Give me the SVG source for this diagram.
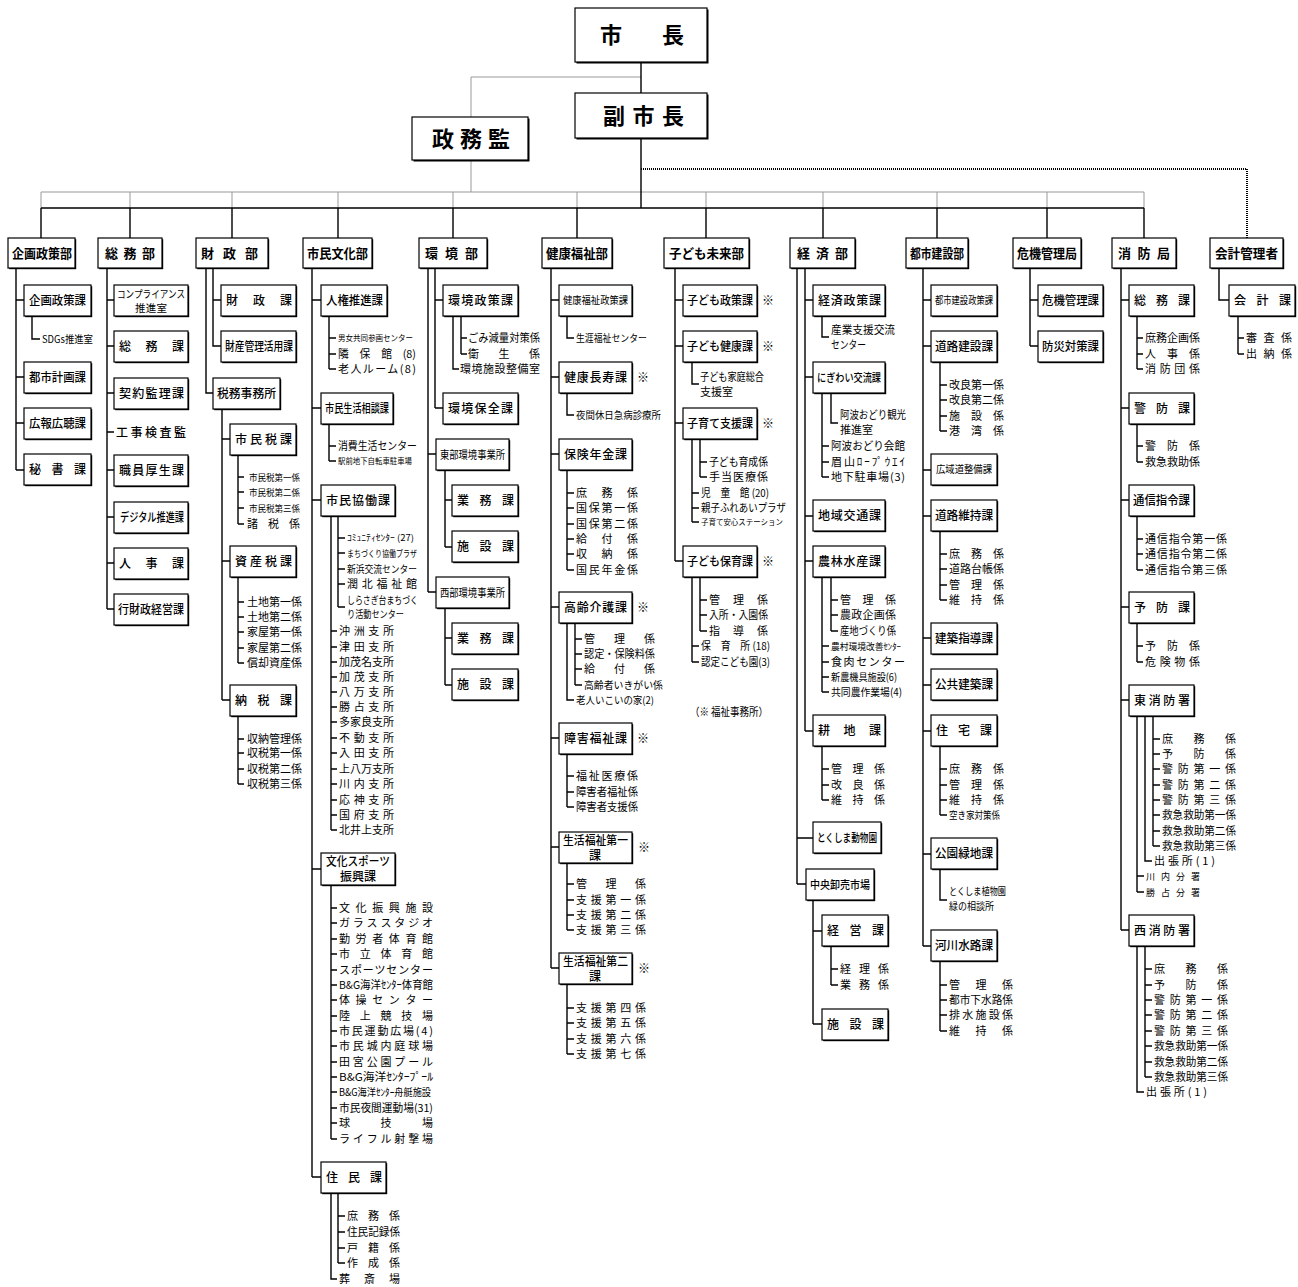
<svg xmlns="http://www.w3.org/2000/svg" width="1298" height="1287" viewBox="0 0 1298 1287">
<style>
text{font-family:"Noto Sans CJK JP","Noto Sans CJK SC",sans-serif;fill:#000}
.h{font-size:22px;font-weight:700}
.d{font-size:13px;font-weight:700}
.b{font-size:12px;font-weight:500}
.i{font-size:11px}
.i10{font-size:10px}
.i9{font-size:9px}
.i8{font-size:8px}
.bx{fill:#fff;stroke:#000;stroke-width:1.2}
.sh{fill:#000}
.ln{fill:none;stroke:#000;stroke-width:1.4}
.gl{fill:none;stroke:#999;stroke-width:1}
.dt{fill:none;stroke:#000;stroke-width:2;stroke-dasharray:1 1}
</style>
<rect width="1298" height="1287" fill="#fff"/>
<g id="connectors">
<path class="gl" d="M641 77H471V117 M471 160V192 M41 192H1144 M41 192V208 M130 192V208 M232 192V208 M338 192V208 M453 192V208 M577 192V208 M706 192V208 M823 192V208 M937 192V208 M1047 192V208 M1144 192V208"/>
<path class="dt" d="M641 169H1247V238"/>
<path class="ln" d="M641 62V93 M641 138V208 M41 208H1144 M41 208V238 M130 208V238 M232 208V238 M338 208V238 M453 208V238 M577 208V238 M706 208V238 M823 208V238 M937 208V238 M1047 208V238 M1144 208V238"/>
<path class="ln" d="M16 268V470 M16 300H24 M16 377H24 M16 423H24 M16 470H24 M32 316V339H40"/>
<path class="ln" d="M107 268V609 M107 300H114 M107 346H114 M107 393H114 M107 432H114 M107 470H114 M107 517H114 M107 563H114 M107 609H114"/>
<path class="ln" d="M213 268V346H221 M213 300H221 M206 268V393H213 M222 409V700 M222 439H230 M222 561H230 M222 700H230 M238 455V524 M238 477H244 M238 492H244 M238 508H244 M238 524H244 M238 577V663 M238 602H244 M238 617H244 M238 632H244 M238 648H244 M238 663H244 M238 716V784 M238 739H244 M238 753H244 M238 769H244 M238 784H244"/>
<path class="ln" d="M312 268V1177 M312 300H321 M312 408H321 M312 500H321 M312 869H321 M312 1177H321 M329 316V369 M329 338H336 M329 354H336 M329 369H336 M329 423V461 M329 446H336 M329 461H336 M338 515V607 M338 538H345 M338 553H345 M338 569H345 M338 584H345 M338 607H345 M331 515V830 M331 631H337 M331 647H337 M331 662H337 M331 677H337 M331 692H337 M331 707H337 M331 722H337 M331 738H337 M331 753H337 M331 769H337 M331 784H337 M331 800H337 M331 815H337 M331 830H337 M331 885V1139 M331 908H337 M331 923H337 M331 939H337 M331 954H337 M331 970H337 M331 985H337 M331 1000H337 M331 1016H337 M331 1031H337 M331 1046H337 M331 1062H337 M331 1077H337 M331 1092H337 M331 1108H337 M331 1123H337 M331 1139H337 M338 1193V1263 M338 1216H345 M338 1232H345 M338 1248H345 M338 1263H345 M331 1193V1279H337"/>
<path class="ln" d="M435 268V408 M435 300H443 M435 408H443 M428 268V592 M428 454H436 M428 592H436 M453 316V369H459 M461 316V354 M461 338H467 M461 354H467 M445 470V547 M445 500H452 M445 547H452 M445 608V685 M445 638H452 M445 685H452"/>
<path class="ln" d="M551 268V968 M551 300H559 M551 377H559 M551 454H559 M551 607H559 M551 738H559 M551 847H559 M551 968H559 M567 316V338H574 M567 393V415H574 M567 470V570 M567 493H574 M567 508H574 M567 524H574 M567 539H574 M567 554H574 M567 570H574 M575 623V685 M575 639H582 M575 654H582 M575 669H582 M575 685H582 M567 623V700H574 M567 753V807 M567 776H574 M567 792H574 M567 807H574 M567 863V930 M567 884H574 M567 900H574 M567 915H574 M567 930H574 M567 984V1054 M567 1008H574 M567 1023H574 M567 1039H574 M567 1054H574"/>
<path class="ln" d="M675 268V561 M675 300H683 M675 346H683 M675 423H683 M675 561H683 M692 362V384H699 M700 439V477 M700 462H707 M700 477H707 M692 439V522 M692 493H699 M692 508H699 M692 522H699 M700 577V631 M700 600H707 M700 615H707 M700 631H707 M692 577V662 M692 646H699 M692 662H699"/>
<path class="ln" d="M805 268V731 M805 300H813 M805 377H813 M805 516H813 M805 561H813 M805 731H813 M797 268V884 M797 838H813 M797 884H806 M822 316V337H829 M831 393V423H838 M822 393V477 M822 446H829 M822 462H829 M822 477H829 M831 577V631 M831 600H838 M831 615H838 M831 631H838 M822 577V692 M822 646H829 M822 662H829 M822 677H829 M822 692H829 M822 746V800 M822 769H829 M822 785H829 M822 800H829 M813 900V1024 M813 931H822 M813 1024H822 M831 946V985 M831 969H838 M831 985H838"/>
<path class="ln" d="M923 268V946 M923 300H931 M923 346H931 M923 470H931 M923 516H931 M923 638H931 M923 685H931 M923 731H931 M923 854H931 M923 946H931 M940 362V431 M940 385H947 M940 400H947 M940 416H947 M940 431H947 M940 531V600 M940 554H947 M940 569H947 M940 585H947 M940 600H947 M940 746V815 M940 769H947 M940 785H947 M940 800H947 M940 815H947 M940 869V900H947 M940 961V1031 M940 985H947 M940 1000H947 M940 1015H947 M940 1031H947"/>
<path class="ln" d="M1030 268V346 M1030 300H1038 M1030 346H1038"/>
<path class="ln" d="M1121 268V930 M1121 300H1129 M1121 408H1129 M1121 500H1129 M1121 607H1129 M1121 700H1129 M1121 930H1129 M1137 316V369 M1137 338H1143 M1137 354H1143 M1137 369H1143 M1137 424V462 M1137 446H1143 M1137 462H1143 M1137 516V570 M1137 539H1143 M1137 554H1143 M1137 570H1143 M1137 623V662 M1137 646H1143 M1137 662H1143 M1153 716V846 M1153 739H1160 M1153 754H1160 M1153 769H1160 M1153 785H1160 M1153 800H1160 M1153 815H1160 M1153 831H1160 M1153 846H1160 M1145 716V861H1152 M1137 716V892 M1137 876H1144 M1137 892H1144 M1145 946V1077 M1145 969H1152 M1145 985H1152 M1145 1000H1152 M1145 1015H1152 M1145 1031H1152 M1145 1046H1152 M1145 1062H1152 M1145 1077H1152 M1137 946V1092H1144"/>
<path class="ln" d="M1219 268V300H1229 M1238 316V354 M1238 338H1244 M1238 354H1244"/>
</g>

<g id="top">
<g id="mayor"><rect class="sh" x="576.5" y="9.5" width="132" height="54"/><rect class="bx" x="575" y="8" width="132" height="54"/><text class="h" x="600" y="43" textLength="84">市長</text></g>
<g id="vice-mayor"><rect class="sh" x="576.5" y="94.5" width="132" height="45"/><rect class="bx" x="575" y="93" width="132" height="45"/><text class="h" x="603" y="124" textLength="81">副市長</text></g>
<g id="seimukan"><rect class="sh" x="413.5" y="118.5" width="116" height="43"/><rect class="bx" x="412" y="117" width="116" height="43"/><text class="h" x="432" y="147" textLength="78">政務監</text></g>
</g>

<g id="d1">
<g><rect class="sh" x="9.2" y="239.2" width="67" height="30"/><rect class="bx" x="8" y="238" width="67" height="30"/><text class="d" x="12" y="258" textLength="60" lengthAdjust="spacingAndGlyphs">企画政策部</text></g>
<g><rect class="sh" x="25.2" y="286.2" width="67" height="31"/><rect class="bx" x="24" y="285" width="67" height="31"/><text class="b" x="29" y="305" textLength="57" lengthAdjust="spacingAndGlyphs">企画政策課</text></g>
<text class="i10" x="42" y="343" textLength="51" lengthAdjust="spacingAndGlyphs">SDGs推進室</text>
<g><rect class="sh" x="25.2" y="363.2" width="67" height="31"/><rect class="bx" x="24" y="362" width="67" height="31"/><text class="b" x="29" y="382" textLength="57" lengthAdjust="spacingAndGlyphs">都市計画課</text></g>
<g><rect class="sh" x="25.2" y="409.2" width="67" height="31"/><rect class="bx" x="24" y="408" width="67" height="31"/><text class="b" x="29" y="428" textLength="57" lengthAdjust="spacingAndGlyphs">広報広聴課</text></g>
<g><rect class="sh" x="25.2" y="455.2" width="67" height="31"/><rect class="bx" x="24" y="454" width="67" height="31"/><text class="b" x="29" y="474" textLength="57">秘書課</text></g>
</g>

<g id="d2">
<g><rect class="sh" x="99.2" y="239.2" width="64" height="30"/><rect class="bx" x="98" y="238" width="64" height="30"/><text class="d" x="105" y="258" textLength="50">総務部</text></g>
<g><rect class="sh" x="115.2" y="286.2" width="74" height="31"/><rect class="bx" x="114" y="285" width="74" height="31"/><text x="117" y="298" style="font-size:10.5px" textLength="68" lengthAdjust="spacingAndGlyphs">コンプライアンス</text><text x="135" y="312" style="font-size:10.5px" textLength="32">推進室</text></g>
<g><rect class="sh" x="115.2" y="332.2" width="74" height="31"/><rect class="bx" x="114" y="331" width="74" height="31"/><text class="b" x="119" y="351" textLength="65">総務課</text></g>
<g><rect class="sh" x="115.2" y="379.2" width="74" height="31"/><rect class="bx" x="114" y="378" width="74" height="31"/><text class="b" x="119" y="398" textLength="65">契約監理課</text></g>
<text class="b" x="116" y="437" textLength="70">工事検査監</text>
<g><rect class="sh" x="115.2" y="456.2" width="74" height="31"/><rect class="bx" x="114" y="455" width="74" height="31"/><text class="b" x="119" y="475" textLength="65">職員厚生課</text></g>
<g><rect class="sh" x="115.2" y="503.2" width="74" height="31"/><rect class="bx" x="114" y="502" width="74" height="31"/><text class="b" x="120" y="522" textLength="64" lengthAdjust="spacingAndGlyphs">デジタル推進課</text></g>
<g><rect class="sh" x="115.2" y="549.2" width="74" height="31"/><rect class="bx" x="114" y="548" width="74" height="31"/><text class="b" x="119" y="568" textLength="65">人事課</text></g>
<g><rect class="sh" x="115.2" y="595.2" width="74" height="31"/><rect class="bx" x="114" y="594" width="74" height="31"/><text class="b" x="118" y="614" textLength="66" lengthAdjust="spacingAndGlyphs">行財政経営課</text></g>
</g>

<g id="d3">
<g><rect class="sh" x="197.2" y="239.2" width="72" height="30"/><rect class="bx" x="196" y="238" width="72" height="30"/><text class="d" x="201" y="258" textLength="57">財政部</text></g>
<g><rect class="sh" x="222.2" y="286.2" width="75" height="31"/><rect class="bx" x="221" y="285" width="75" height="31"/><text class="b" x="226" y="305" textLength="66">財政課</text></g>
<g><rect class="sh" x="222.2" y="332.2" width="75" height="31"/><rect class="bx" x="221" y="331" width="75" height="31"/><text class="b" x="225" y="351" textLength="68" lengthAdjust="spacingAndGlyphs">財産管理活用課</text></g>
<g><rect class="sh" x="214.2" y="379.2" width="67" height="31"/><rect class="bx" x="213" y="378" width="67" height="31"/><text class="b" x="217" y="398" textLength="59" lengthAdjust="spacingAndGlyphs">税務事務所</text></g>
<g><rect class="sh" x="231.2" y="425.2" width="66" height="31"/><rect class="bx" x="230" y="424" width="66" height="31"/><text class="b" x="235" y="444" textLength="57">市民税課</text></g>
<text class="i9" x="249" y="480.5" textLength="51" lengthAdjust="spacingAndGlyphs">市民税第一係</text>
<text class="i9" x="249" y="495.5" textLength="51" lengthAdjust="spacingAndGlyphs">市民税第二係</text>
<text class="i9" x="249" y="511.5" textLength="51" lengthAdjust="spacingAndGlyphs">市民税第三係</text>
<text class="i" x="247" y="528" textLength="53">諸税係</text>
<g><rect class="sh" x="231.2" y="547.2" width="66" height="31"/><rect class="bx" x="230" y="546" width="66" height="31"/><text class="b" x="235" y="566" textLength="57">資産税課</text></g>
<text class="i" x="247" y="606" textLength="55">土地第一係</text>
<text class="i" x="247" y="621" textLength="55">土地第二係</text>
<text class="i" x="247" y="636" textLength="55">家屋第一係</text>
<text class="i" x="247" y="652" textLength="55">家屋第二係</text>
<text class="i" x="247" y="667" textLength="55">償却資産係</text>
<g><rect class="sh" x="231.2" y="686.2" width="66" height="31"/><rect class="bx" x="230" y="685" width="66" height="31"/><text class="b" x="235" y="705" textLength="57">納税課</text></g>
<text class="i" x="247" y="743" textLength="55">収納管理係</text>
<text class="i" x="247" y="757" textLength="55">収税第一係</text>
<text class="i" x="247" y="773" textLength="55">収税第二係</text>
<text class="i" x="247" y="788" textLength="55">収税第三係</text>
</g>

<g id="d4">
<g><rect class="sh" x="304.2" y="239.2" width="69" height="30"/><rect class="bx" x="303" y="238" width="69" height="30"/><text class="d" x="307" y="258" textLength="61" lengthAdjust="spacingAndGlyphs">市民文化部</text></g>
<g><rect class="sh" x="322.2" y="286.2" width="66" height="31"/><rect class="bx" x="321" y="285" width="66" height="31"/><text class="b" x="326" y="305" textLength="57" lengthAdjust="spacingAndGlyphs">人権推進課</text></g>
<text x="338" y="341" style="font-size:8.5px" textLength="75" lengthAdjust="spacingAndGlyphs">男女共同参画センター</text>
<text class="i" x="338" y="358" textLength="78" lengthAdjust="spacingAndGlyphs">隣　保　館　(8)</text>
<text class="i" x="338" y="373" textLength="78">老人ルーム(8)</text>
<g><rect class="sh" x="322.2" y="394.2" width="72" height="31"/><rect class="bx" x="321" y="393" width="72" height="31"/><text class="b" x="325" y="413" textLength="64" lengthAdjust="spacingAndGlyphs">市民生活相談課</text></g>
<text class="i" x="338" y="450" textLength="79" lengthAdjust="spacingAndGlyphs">消費生活センター</text>
<text class="i8" x="338" y="464" textLength="74" lengthAdjust="spacingAndGlyphs">駅前地下自転車駐車場</text>
<g><rect class="sh" x="322.2" y="486.2" width="74" height="31"/><rect class="bx" x="321" y="485" width="74" height="31"/><text class="b" x="326" y="505" textLength="64">市民協働課</text></g>
<text class="i9" x="347" y="541" textLength="67" lengthAdjust="spacingAndGlyphs">ｺﾐｭﾆﾃｨｾﾝﾀｰ (27)</text>
<text class="i9" x="347" y="556.5" textLength="70" lengthAdjust="spacingAndGlyphs">まちづくり協働プラザ</text>
<text x="347" y="572.5" style="font-size:10px" textLength="70" lengthAdjust="spacingAndGlyphs">新浜交流センター</text>
<text class="i" x="347" y="588" textLength="70">潤北福祉館</text>
<text class="i10" x="347" y="603.5" textLength="71" lengthAdjust="spacingAndGlyphs">しらさぎ台まちづく</text>
<text class="i10" x="347" y="618" textLength="57" lengthAdjust="spacingAndGlyphs">り活動センター</text>
<text class="i" x="339" y="635" textLength="55">沖洲支所</text>
<text class="i" x="339" y="651" textLength="55">津田支所</text>
<text class="i" x="339" y="666" textLength="55">加茂名支所</text>
<text class="i" x="339" y="681" textLength="55">加茂支所</text>
<text class="i" x="339" y="696" textLength="55">八万支所</text>
<text class="i" x="339" y="711" textLength="55">勝占支所</text>
<text class="i" x="339" y="726" textLength="55">多家良支所</text>
<text class="i" x="339" y="742" textLength="55">不動支所</text>
<text class="i" x="339" y="757" textLength="55">入田支所</text>
<text class="i" x="339" y="773" textLength="55">上八万支所</text>
<text class="i" x="339" y="788" textLength="55">川内支所</text>
<text class="i" x="339" y="804" textLength="55">応神支所</text>
<text class="i" x="339" y="819" textLength="55">国府支所</text>
<text class="i" x="339" y="834" textLength="55">北井上支所</text>
<g><rect class="sh" x="322.2" y="854.2" width="74" height="32"/><rect class="bx" x="321" y="853" width="74" height="32"/><text class="b" x="326" y="866" textLength="64" lengthAdjust="spacingAndGlyphs">文化スポーツ</text><text class="b" x="340" y="881" textLength="36">振興課</text></g>
<text class="i" x="339" y="912" textLength="94">文化振興施設</text>
<text class="i" x="339" y="927" textLength="94">ガラススタジオ</text>
<text class="i" x="339" y="943" textLength="94">勤労者体育館</text>
<text class="i" x="339" y="958" textLength="94">市立体育館</text>
<text class="i" x="339" y="974" textLength="94">スポーツセンター</text>
<text class="i" x="339" y="989" textLength="94" lengthAdjust="spacingAndGlyphs">B&amp;G海洋ｾﾝﾀｰ体育館</text>
<text class="i" x="339" y="1004" textLength="94">体操センター</text>
<text class="i" x="339" y="1020" textLength="94">陸上競技場</text>
<text class="i" x="339" y="1035" textLength="94">市民運動広場(4)</text>
<text class="i" x="339" y="1050" textLength="94">市民城内庭球場</text>
<text class="i" x="339" y="1066" textLength="94">田宮公園プール</text>
<text class="i" x="339" y="1081" textLength="94" lengthAdjust="spacingAndGlyphs">B&amp;G海洋ｾﾝﾀｰﾌﾟｰﾙ</text>
<text class="i10" x="339" y="1096" textLength="92" lengthAdjust="spacingAndGlyphs">B&amp;G海洋ｾﾝﾀｰ舟艇施設</text>
<text class="i" x="339" y="1112" textLength="94" lengthAdjust="spacingAndGlyphs">市民夜間運動場(31)</text>
<text class="i" x="339" y="1127" textLength="94">球技場</text>
<text class="i" x="339" y="1143" textLength="94">ライフル射撃場</text>
<g><rect class="sh" x="322.2" y="1163.2" width="65" height="31"/><rect class="bx" x="321" y="1162" width="65" height="31"/><text class="b" x="326" y="1182" textLength="56">住民課</text></g>
<text class="i" x="347" y="1220" textLength="53">庶務係</text>
<text class="i" x="347" y="1236" textLength="53" lengthAdjust="spacingAndGlyphs">住民記録係</text>
<text class="i" x="347" y="1252" textLength="53">戸籍係</text>
<text class="i" x="347" y="1267" textLength="53">作成係</text>
<text class="i" x="339" y="1283" textLength="61">葬斎場</text>
</g>

<g id="d5">
<g><rect class="sh" x="420.2" y="239.2" width="68" height="30"/><rect class="bx" x="419" y="238" width="68" height="30"/><text class="d" x="425" y="258" textLength="53">環境部</text></g>
<g><rect class="sh" x="444.2" y="286.2" width="75" height="31"/><rect class="bx" x="443" y="285" width="75" height="31"/><text class="b" x="448" y="305" textLength="65">環境政策課</text></g>
<text class="i" x="468" y="342" textLength="72" lengthAdjust="spacingAndGlyphs">ごみ減量対策係</text>
<text class="i" x="468" y="358" textLength="72">衛生係</text>
<text class="i" x="460" y="373" textLength="80">環境施設整備室</text>
<g><rect class="sh" x="444.2" y="394.2" width="75" height="31"/><rect class="bx" x="443" y="393" width="75" height="31"/><text class="b" x="448" y="413" textLength="65">環境保全課</text></g>
<g><rect class="sh" x="437.2" y="440.2" width="73" height="31"/><rect class="bx" x="436" y="439" width="73" height="31"/><text class="i" x="440" y="459" textLength="65" lengthAdjust="spacingAndGlyphs">東部環境事業所</text></g>
<g><rect class="sh" x="453.2" y="486.2" width="66" height="31"/><rect class="bx" x="452" y="485" width="66" height="31"/><text class="b" x="457" y="505" textLength="57">業務課</text></g>
<g><rect class="sh" x="453.2" y="532.2" width="66" height="31"/><rect class="bx" x="452" y="531" width="66" height="31"/><text class="b" x="457" y="551" textLength="57">施設課</text></g>
<g><rect class="sh" x="437.2" y="578.2" width="73" height="31"/><rect class="bx" x="436" y="577" width="73" height="31"/><text class="i" x="440" y="597" textLength="65" lengthAdjust="spacingAndGlyphs">西部環境事業所</text></g>
<g><rect class="sh" x="453.2" y="624.2" width="66" height="31"/><rect class="bx" x="452" y="623" width="66" height="31"/><text class="b" x="457" y="643" textLength="57">業務課</text></g>
<g><rect class="sh" x="453.2" y="670.2" width="66" height="31"/><rect class="bx" x="452" y="669" width="66" height="31"/><text class="b" x="457" y="689" textLength="57">施設課</text></g>
</g>

<g id="d6">
<g><rect class="sh" x="543.2" y="239.2" width="70" height="30"/><rect class="bx" x="542" y="238" width="70" height="30"/><text class="d" x="546" y="258" textLength="62" lengthAdjust="spacingAndGlyphs">健康福祉部</text></g>
<g><rect class="sh" x="560.2" y="286.2" width="73" height="31"/><rect class="bx" x="559" y="285" width="73" height="31"/><text x="563" y="304" style="font-size:10.5px" textLength="65" lengthAdjust="spacingAndGlyphs">健康福祉政策課</text></g>
<text class="i10" x="576" y="341.5" textLength="71" lengthAdjust="spacingAndGlyphs">生涯福祉センター</text>
<g><rect class="sh" x="560.2" y="363.2" width="73" height="31"/><rect class="bx" x="559" y="362" width="73" height="31"/><text class="b" x="564" y="382" textLength="63">健康長寿課</text><text class="b" x="637" y="382">※</text></g>
<text class="i10" x="576" y="418.5" textLength="85" lengthAdjust="spacingAndGlyphs">夜間休日急病診療所</text>
<g><rect class="sh" x="560.2" y="440.2" width="73" height="31"/><rect class="bx" x="559" y="439" width="73" height="31"/><text class="b" x="564" y="459" textLength="63">保険年金課</text></g>
<text class="i" x="576" y="497" textLength="62">庶務係</text>
<text class="i" x="576" y="512" textLength="62">国保第一係</text>
<text class="i" x="576" y="528" textLength="62">国保第二係</text>
<text class="i" x="576" y="543" textLength="62">給付係</text>
<text class="i" x="576" y="558" textLength="62">収納係</text>
<text class="i" x="576" y="574" textLength="62">国民年金係</text>
<g><rect class="sh" x="560.2" y="593.2" width="73" height="31"/><rect class="bx" x="559" y="592" width="73" height="31"/><text class="b" x="564" y="612" textLength="63">高齢介護課</text><text class="b" x="637" y="612">※</text></g>
<text class="i" x="584" y="643" textLength="71">管理係</text>
<text class="i" x="584" y="658" textLength="71" lengthAdjust="spacingAndGlyphs">認定・保険料係</text>
<text class="i" x="584" y="673" textLength="71">給付係</text>
<text class="i10" x="584" y="688.5" textLength="79" lengthAdjust="spacingAndGlyphs">高齢者いきがい係</text>
<text class="i10" x="576" y="703.5" textLength="78" lengthAdjust="spacingAndGlyphs">老人いこいの家(2)</text>
<g><rect class="sh" x="560.2" y="724.2" width="73" height="31"/><rect class="bx" x="559" y="723" width="73" height="31"/><text class="b" x="564" y="743" textLength="63">障害福祉課</text><text class="b" x="637" y="743">※</text></g>
<text class="i" x="576" y="780" textLength="62">福祉医療係</text>
<text class="i" x="576" y="796" textLength="62" lengthAdjust="spacingAndGlyphs">障害者福祉係</text>
<text class="i" x="576" y="811" textLength="62" lengthAdjust="spacingAndGlyphs">障害者支援係</text>
<g><rect class="sh" x="560.2" y="833.2" width="73" height="31"/><rect class="bx" x="559" y="832" width="73" height="31"/><text class="b" x="563" y="845" textLength="65" lengthAdjust="spacingAndGlyphs">生活福祉第一</text><text class="b" x="589" y="860">課</text><text class="b" x="638" y="852">※</text></g>
<text class="i" x="576" y="888" textLength="70">管理係</text>
<text class="i" x="576" y="904" textLength="70">支援第一係</text>
<text class="i" x="576" y="919" textLength="70">支援第二係</text>
<text class="i" x="576" y="934" textLength="70">支援第三係</text>
<g><rect class="sh" x="560.2" y="954.2" width="73" height="31"/><rect class="bx" x="559" y="953" width="73" height="31"/><text class="b" x="563" y="966" textLength="65" lengthAdjust="spacingAndGlyphs">生活福祉第二</text><text class="b" x="589" y="981">課</text><text class="b" x="638" y="973">※</text></g>
<text class="i" x="576" y="1012" textLength="70">支援第四係</text>
<text class="i" x="576" y="1027" textLength="70">支援第五係</text>
<text class="i" x="576" y="1043" textLength="70">支援第六係</text>
<text class="i" x="576" y="1058" textLength="70">支援第七係</text>
</g>

<g id="d7">
<g><rect class="sh" x="665.2" y="239.2" width="85" height="30"/><rect class="bx" x="664" y="238" width="85" height="30"/><text class="d" x="669" y="258" textLength="75" lengthAdjust="spacingAndGlyphs">子ども未来部</text></g>
<g><rect class="sh" x="684.2" y="286.2" width="74" height="31"/><rect class="bx" x="683" y="285" width="74" height="31"/><text class="b" x="687" y="305" textLength="66" lengthAdjust="spacingAndGlyphs">子ども政策課</text><text class="b" x="762" y="305">※</text></g>
<g><rect class="sh" x="684.2" y="332.2" width="74" height="31"/><rect class="bx" x="683" y="331" width="74" height="31"/><text class="b" x="687" y="351" textLength="66" lengthAdjust="spacingAndGlyphs">子ども健康課</text><text class="b" x="762" y="351">※</text></g>
<text class="i" x="700" y="381" textLength="64" lengthAdjust="spacingAndGlyphs">子ども家庭総合</text>
<text class="i" x="700" y="396" textLength="33">支援室</text>
<g><rect class="sh" x="684.2" y="409.2" width="74" height="31"/><rect class="bx" x="683" y="408" width="74" height="31"/><text class="b" x="687" y="428" textLength="66" lengthAdjust="spacingAndGlyphs">子育て支援課</text><text class="b" x="762" y="428">※</text></g>
<text class="i" x="709" y="466" textLength="59" lengthAdjust="spacingAndGlyphs">子ども育成係</text>
<text class="i" x="709" y="481" textLength="59">手当医療係</text>
<text class="i" x="701" y="497" textLength="68" lengthAdjust="spacingAndGlyphs">児　童　館 (20)</text>
<text class="i" x="701" y="512" textLength="85" lengthAdjust="spacingAndGlyphs">親子ふれあいプラザ</text>
<text class="i8" x="701" y="525" textLength="82" lengthAdjust="spacingAndGlyphs">子育て安心ステーション</text>
<g><rect class="sh" x="684.2" y="547.2" width="74" height="31"/><rect class="bx" x="683" y="546" width="74" height="31"/><text class="b" x="687" y="566" textLength="66" lengthAdjust="spacingAndGlyphs">子ども保育課</text><text class="b" x="762" y="566">※</text></g>
<text class="i" x="709" y="604" textLength="59">管理係</text>
<text class="i" x="709" y="619" textLength="59" lengthAdjust="spacingAndGlyphs">入所・入園係</text>
<text class="i" x="709" y="635" textLength="59">指導係</text>
<text class="i" x="701" y="650" textLength="69" lengthAdjust="spacingAndGlyphs">保　育　所 (18)</text>
<text class="i" x="701" y="666" textLength="69" lengthAdjust="spacingAndGlyphs">認定こども園(3)</text>
<text class="i" x="690" y="716" textLength="78" lengthAdjust="spacingAndGlyphs">（※ 福祉事務所）</text>
</g>

<g id="d8">
<g><rect class="sh" x="791.2" y="239.2" width="65" height="30"/><rect class="bx" x="790" y="238" width="65" height="30"/><text class="d" x="797" y="258" textLength="51">経済部</text></g>
<g><rect class="sh" x="814.2" y="286.2" width="72" height="31"/><rect class="bx" x="813" y="285" width="72" height="31"/><text class="b" x="818" y="305" textLength="63">経済政策課</text></g>
<text class="i" x="831" y="334" textLength="64" lengthAdjust="spacingAndGlyphs">産業支援交流</text>
<text class="i" x="831" y="349" textLength="35" lengthAdjust="spacingAndGlyphs">センター</text>
<g><rect class="sh" x="814.2" y="363.2" width="72" height="31"/><rect class="bx" x="813" y="362" width="72" height="31"/><text x="817" y="382" style="font-size:11.5px;font-weight:500" textLength="64" lengthAdjust="spacingAndGlyphs">にぎわい交流課</text></g>
<text class="i" x="840" y="419" textLength="66" lengthAdjust="spacingAndGlyphs">阿波おどり観光</text>
<text class="i" x="840" y="434" textLength="33">推進室</text>
<text class="i" x="831" y="450" textLength="74" lengthAdjust="spacingAndGlyphs">阿波おどり会館</text>
<text class="i" x="831" y="466" textLength="74">眉山ﾛｰﾌﾟｳｴｲ</text>
<text class="i" x="831" y="481" textLength="74">地下駐車場(3)</text>
<g><rect class="sh" x="814.2" y="501.2" width="72" height="31"/><rect class="bx" x="813" y="500" width="72" height="31"/><text class="b" x="818" y="520" textLength="63">地域交通課</text></g>
<g><rect class="sh" x="814.2" y="547.2" width="72" height="31"/><rect class="bx" x="813" y="546" width="72" height="31"/><text class="b" x="818" y="566" textLength="63">農林水産課</text></g>
<text class="i" x="840" y="604" textLength="56">管理係</text>
<text class="i" x="840" y="619" textLength="56">農政企画係</text>
<text class="i" x="840" y="635" textLength="56" lengthAdjust="spacingAndGlyphs">産地づくり係</text>
<text class="i9" x="831" y="649.5" textLength="70" lengthAdjust="spacingAndGlyphs">農村環境改善ｾﾝﾀｰ</text>
<text class="i" x="831" y="666" textLength="74">食肉センター</text>
<text x="831" y="681" style="font-size:10.5px" textLength="66" lengthAdjust="spacingAndGlyphs">新農機具施設(6)</text>
<text x="831" y="696" style="font-size:10.5px" textLength="71" lengthAdjust="spacingAndGlyphs">共同農作業場(4)</text>
<g><rect class="sh" x="814.2" y="716.2" width="72" height="31"/><rect class="bx" x="813" y="715" width="72" height="31"/><text class="b" x="818" y="735" textLength="63">耕地課</text></g>
<text class="i" x="831" y="773" textLength="54">管理係</text>
<text class="i" x="831" y="789" textLength="54">改良係</text>
<text class="i" x="831" y="804" textLength="54">維持係</text>
<g><rect class="sh" x="814.2" y="823.2" width="68" height="31"/><rect class="bx" x="813" y="822" width="68" height="31"/><text x="817" y="842" style="font-size:11.5px;font-weight:500" textLength="60" lengthAdjust="spacingAndGlyphs">とくしま動物園</text></g>
<g><rect class="sh" x="807.2" y="870.2" width="68" height="31"/><rect class="bx" x="806" y="869" width="68" height="31"/><text x="810" y="889" style="font-size:11.5px;font-weight:500" textLength="60" lengthAdjust="spacingAndGlyphs">中央卸売市場</text></g>
<g><rect class="sh" x="823.2" y="916.2" width="66" height="31"/><rect class="bx" x="822" y="915" width="66" height="31"/><text class="b" x="827" y="935" textLength="57">経営課</text></g>
<text class="i" x="840" y="973" textLength="49">経理係</text>
<text class="i" x="840" y="989" textLength="49">業務係</text>
<g><rect class="sh" x="823.2" y="1010.2" width="66" height="31"/><rect class="bx" x="822" y="1009" width="66" height="31"/><text class="b" x="827" y="1029" textLength="57">施設課</text></g>
</g>

<g id="d9">
<g><rect class="sh" x="907.2" y="239.2" width="62" height="30"/><rect class="bx" x="906" y="238" width="62" height="30"/><text class="d" x="910" y="258" textLength="54" lengthAdjust="spacingAndGlyphs">都市建設部</text></g>
<g><rect class="sh" x="932.2" y="286.2" width="66" height="31"/><rect class="bx" x="931" y="285" width="66" height="31"/><text x="935" y="304" style="font-size:10.5px" textLength="58" lengthAdjust="spacingAndGlyphs">都市建設政策課</text></g>
<g><rect class="sh" x="932.2" y="332.2" width="66" height="31"/><rect class="bx" x="931" y="331" width="66" height="31"/><text class="b" x="935" y="351" textLength="58" lengthAdjust="spacingAndGlyphs">道路建設課</text></g>
<text class="i" x="949" y="389" textLength="55">改良第一係</text>
<text class="i" x="949" y="404" textLength="55">改良第二係</text>
<text class="i" x="949" y="420" textLength="55">施設係</text>
<text class="i" x="949" y="435" textLength="55">港湾係</text>
<g><rect class="sh" x="932.2" y="455.2" width="66" height="31"/><rect class="bx" x="931" y="454" width="66" height="31"/><text x="936" y="473" style="font-size:10.5px" textLength="56" lengthAdjust="spacingAndGlyphs">広域道整備課</text></g>
<g><rect class="sh" x="932.2" y="501.2" width="66" height="31"/><rect class="bx" x="931" y="500" width="66" height="31"/><text class="b" x="935" y="520" textLength="58" lengthAdjust="spacingAndGlyphs">道路維持課</text></g>
<text class="i" x="949" y="558" textLength="55">庶務係</text>
<text class="i" x="949" y="573" textLength="55">道路台帳係</text>
<text class="i" x="949" y="589" textLength="55">管理係</text>
<text class="i" x="949" y="604" textLength="55">維持係</text>
<g><rect class="sh" x="932.2" y="624.2" width="66" height="31"/><rect class="bx" x="931" y="623" width="66" height="31"/><text class="b" x="935" y="643" textLength="58" lengthAdjust="spacingAndGlyphs">建築指導課</text></g>
<g><rect class="sh" x="932.2" y="670.2" width="66" height="31"/><rect class="bx" x="931" y="669" width="66" height="31"/><text class="b" x="935" y="689" textLength="58" lengthAdjust="spacingAndGlyphs">公共建築課</text></g>
<g><rect class="sh" x="932.2" y="716.2" width="66" height="31"/><rect class="bx" x="931" y="715" width="66" height="31"/><text class="b" x="936" y="735" textLength="56">住宅課</text></g>
<text class="i" x="949" y="773" textLength="55">庶務係</text>
<text class="i" x="949" y="789" textLength="55">管理係</text>
<text class="i" x="949" y="804" textLength="55">維持係</text>
<text class="i10" x="949" y="818.5" textLength="51" lengthAdjust="spacingAndGlyphs">空き家対策係</text>
<g><rect class="sh" x="932.2" y="839.2" width="66" height="31"/><rect class="bx" x="931" y="838" width="66" height="31"/><text class="b" x="935" y="858" textLength="58" lengthAdjust="spacingAndGlyphs">公園緑地課</text></g>
<text class="i10" x="949" y="895" textLength="57" lengthAdjust="spacingAndGlyphs">とくしま植物園</text>
<text class="i10" x="949" y="910" textLength="45" lengthAdjust="spacingAndGlyphs">緑の相談所</text>
<g><rect class="sh" x="932.2" y="931.2" width="66" height="31"/><rect class="bx" x="931" y="930" width="66" height="31"/><text class="b" x="935" y="950" textLength="58" lengthAdjust="spacingAndGlyphs">河川水路課</text></g>
<text class="i" x="949" y="989" textLength="64">管理係</text>
<text class="i" x="949" y="1004" textLength="64" lengthAdjust="spacingAndGlyphs">都市下水路係</text>
<text class="i" x="949" y="1019" textLength="64">排水施設係</text>
<text class="i" x="949" y="1035" textLength="64">維持係</text>
</g>

<g id="d10">
<g><rect class="sh" x="1014.2" y="239.2" width="68" height="30"/><rect class="bx" x="1013" y="238" width="68" height="30"/><text class="d" x="1017" y="258" textLength="60" lengthAdjust="spacingAndGlyphs">危機管理局</text></g>
<g><rect class="sh" x="1039.2" y="286.2" width="65" height="31"/><rect class="bx" x="1038" y="285" width="65" height="31"/><text class="b" x="1042" y="305" textLength="57" lengthAdjust="spacingAndGlyphs">危機管理課</text></g>
<g><rect class="sh" x="1039.2" y="332.2" width="65" height="31"/><rect class="bx" x="1038" y="331" width="65" height="31"/><text class="b" x="1042" y="351" textLength="57" lengthAdjust="spacingAndGlyphs">防災対策課</text></g>
</g>

<g id="d11">
<g><rect class="sh" x="1113.2" y="239.2" width="64" height="30"/><rect class="bx" x="1112" y="238" width="64" height="30"/><text class="d" x="1118" y="258" textLength="52">消防局</text></g>
<g><rect class="sh" x="1130.2" y="286.2" width="65" height="31"/><rect class="bx" x="1129" y="285" width="65" height="31"/><text class="b" x="1134" y="305" textLength="56">総務課</text></g>
<text class="i" x="1145" y="342" textLength="55">庶務企画係</text>
<text class="i" x="1145" y="358" textLength="55">人事係</text>
<text class="i" x="1145" y="373" textLength="55">消防団係</text>
<g><rect class="sh" x="1130.2" y="394.2" width="65" height="31"/><rect class="bx" x="1129" y="393" width="65" height="31"/><text class="b" x="1134" y="413" textLength="56">警防課</text></g>
<text class="i" x="1145" y="450" textLength="55">警防係</text>
<text class="i" x="1145" y="466" textLength="55">救急救助係</text>
<g><rect class="sh" x="1130.2" y="486.2" width="65" height="31"/><rect class="bx" x="1129" y="485" width="65" height="31"/><text class="b" x="1133" y="505" textLength="57" lengthAdjust="spacingAndGlyphs">通信指令課</text></g>
<text class="i" x="1145" y="543" textLength="82">通信指令第一係</text>
<text class="i" x="1145" y="558" textLength="82">通信指令第二係</text>
<text class="i" x="1145" y="574" textLength="82">通信指令第三係</text>
<g><rect class="sh" x="1130.2" y="593.2" width="65" height="31"/><rect class="bx" x="1129" y="592" width="65" height="31"/><text class="b" x="1134" y="612" textLength="56">予防課</text></g>
<text class="i" x="1145" y="650" textLength="55">予防係</text>
<text class="i" x="1145" y="666" textLength="55">危険物係</text>
<g><rect class="sh" x="1130.2" y="686.2" width="65" height="31"/><rect class="bx" x="1129" y="685" width="65" height="31"/><text class="b" x="1134" y="705" textLength="56">東消防署</text></g>
<text class="i" x="1162" y="743" textLength="74">庶務係</text>
<text class="i" x="1162" y="758" textLength="74">予防係</text>
<text class="i" x="1162" y="773" textLength="74">警防第一係</text>
<text class="i" x="1162" y="789" textLength="74">警防第二係</text>
<text class="i" x="1162" y="804" textLength="74">警防第三係</text>
<text class="i" x="1162" y="819" textLength="74" lengthAdjust="spacingAndGlyphs">救急救助第一係</text>
<text class="i" x="1162" y="835" textLength="74" lengthAdjust="spacingAndGlyphs">救急救助第二係</text>
<text class="i" x="1162" y="850" textLength="74" lengthAdjust="spacingAndGlyphs">救急救助第三係</text>
<text class="i" x="1154" y="865" textLength="61">出張所(1)</text>
<text class="i9" x="1146" y="879.5" textLength="54">川内分署</text>
<text class="i9" x="1146" y="895.5" textLength="54">勝占分署</text>
<g><rect class="sh" x="1130.2" y="916.2" width="65" height="31"/><rect class="bx" x="1129" y="915" width="65" height="31"/><text class="b" x="1134" y="935" textLength="56">西消防署</text></g>
<text class="i" x="1154" y="973" textLength="74">庶務係</text>
<text class="i" x="1154" y="989" textLength="74">予防係</text>
<text class="i" x="1154" y="1004" textLength="74">警防第一係</text>
<text class="i" x="1154" y="1019" textLength="74">警防第二係</text>
<text class="i" x="1154" y="1035" textLength="74">警防第三係</text>
<text class="i" x="1154" y="1050" textLength="74" lengthAdjust="spacingAndGlyphs">救急救助第一係</text>
<text class="i" x="1154" y="1066" textLength="74" lengthAdjust="spacingAndGlyphs">救急救助第二係</text>
<text class="i" x="1154" y="1081" textLength="74" lengthAdjust="spacingAndGlyphs">救急救助第三係</text>
<text class="i" x="1146" y="1096" textLength="61">出張所(1)</text>
</g>

<g id="d12">
<g><rect class="sh" x="1211.2" y="239.2" width="73" height="30"/><rect class="bx" x="1210" y="238" width="73" height="30"/><text class="d" x="1215" y="258" textLength="63" lengthAdjust="spacingAndGlyphs">会計管理者</text></g>
<g><rect class="sh" x="1230.2" y="286.2" width="66" height="31"/><rect class="bx" x="1229" y="285" width="66" height="31"/><text class="b" x="1234" y="305" textLength="57">会計課</text></g>
<text class="i" x="1246" y="342" textLength="46">審査係</text>
<text class="i" x="1246" y="358" textLength="46">出納係</text>
</g>
</svg>
